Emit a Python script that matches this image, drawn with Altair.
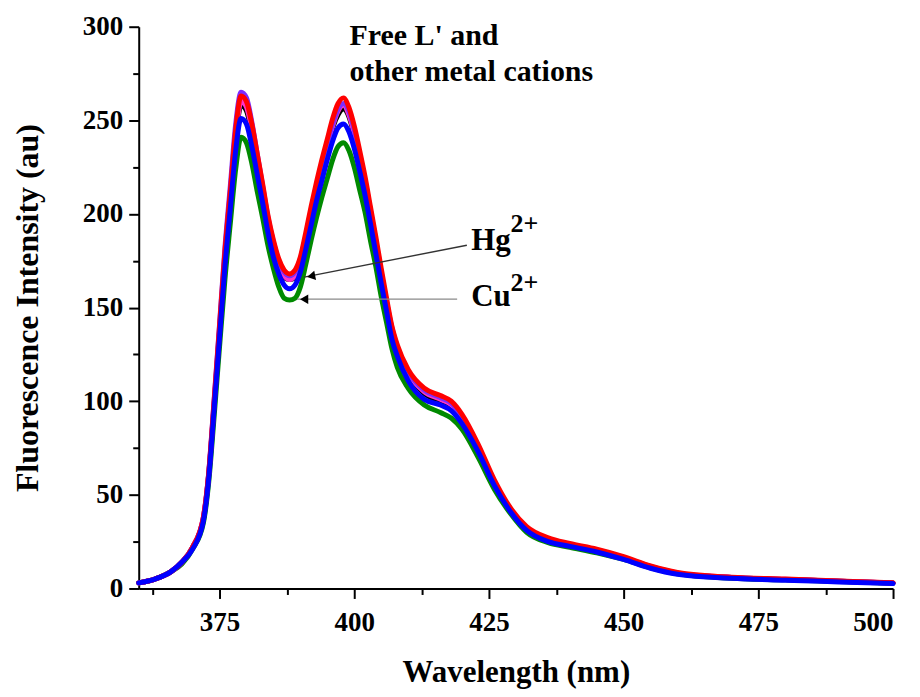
import altair as alt
import pandas as pd

# ---------------- data ----------------
wavelength = [360, 363, 366, 368, 370, 372, 373, 374, 375, 376, 377, 378, 379, 380, 381,
              382, 383, 384, 385, 386, 387, 388, 389, 390, 391, 392, 393, 394, 395, 396,
              397, 398, 399, 400, 401, 402, 403, 404, 405, 406, 407, 408, 410, 413, 416,
              418, 420, 423, 426, 429, 432, 436, 440, 445, 450, 455, 460, 470, 480, 490, 500]

green = [3, 5, 9, 13, 21, 35, 57, 92, 129, 165, 195, 224, 241, 238, 227, 212,
         198, 183, 171, 161, 155, 154, 155, 161, 173, 186, 198, 209, 219, 229,
         236, 238, 234, 225, 213, 201, 186, 172, 156, 142, 128, 118,
         107, 98, 94, 91, 85, 70, 53, 40, 30, 24.5,
         22, 19, 15.5, 11, 7.8, 5.5, 4.6, 3.7, 2.8]
black = [3, 5, 9, 14, 22, 37, 61, 98, 137, 176, 208, 240, 258, 255, 243, 227,
         211, 195, 182, 172, 166, 165, 166, 173, 186, 200, 213, 224, 235, 246,
         253, 256, 252, 242, 229, 216, 200, 184, 168, 152, 137, 127,
         115, 104, 100, 97, 90, 75, 56, 42, 32, 26,
         23.5, 20.5, 16.5, 11.5, 8.2, 5.8, 4.8, 3.8, 2.9]
magenta = [3, 5, 9, 14, 22, 38, 61, 99, 138, 177, 209, 241, 260, 257, 245, 229,
           213, 196, 183, 173, 167, 165, 167, 174, 187, 201, 214, 226, 236, 247,
           255, 258, 253, 243, 231, 217, 201, 185, 168, 153, 138, 128,
           115, 105, 101, 98, 91, 76, 57, 42, 32, 26.5,
           23.5, 20.5, 16.5, 11.8, 8.3, 5.9, 4.9, 3.9, 2.9]
purple = [3, 5, 9, 14, 22, 38, 62, 101, 141, 182, 215, 248, 265, 262, 249, 232,
          215, 198, 185, 175, 169, 167, 169, 176, 188, 202, 215, 227, 238, 248,
          256, 259, 255, 245, 232, 218, 202, 186, 169, 153, 139, 129,
          116, 106, 102, 99, 92, 76, 57, 42, 32, 26.5,
          23.5, 20.5, 16.5, 11.5, 8.2, 5.8, 4.8, 3.8, 2.9]
red = [3, 5, 9, 14, 22, 38, 62, 100, 140, 180, 212, 245, 263, 260, 248, 232,
       216, 199, 186, 176, 170, 168, 170, 177, 190, 204, 217, 229, 240, 251,
       259, 262, 257, 247, 234, 220, 204, 188, 171, 155, 140, 130,
       117, 107, 103, 100, 93, 77, 58, 43, 33, 27,
       24, 21, 17, 12, 8.5, 6, 5, 4, 3]
blue = [3, 5, 9, 14, 21, 36, 59, 96, 134, 172, 203, 234, 251, 248, 236, 221,
        206, 190, 177, 168, 162, 160, 162, 169, 181, 194, 207, 218, 229, 239,
        246, 248, 244, 235, 223, 210, 195, 179, 163, 148, 133, 124,
        111, 101, 98, 95, 88, 73, 55, 41, 31, 25,
        22.5, 19.5, 15.5, 10.8, 7.6, 5.4, 4.4, 3.5, 2.6]

series = [("green", green, "#008a00"), ("black", black, "#000000"),
          ("magenta", magenta, "#ff33cc"), ("purple", purple, "#7b2cff"),
          ("red", red, "#ff0000"), ("blue", blue, "#0000ff")]

x_major_ticks = [375, 400, 425, 450, 475, 500]
x_minor_ticks = [362.5, 387.5, 412.5, 437.5, 462.5, 487.5]
y_major_ticks = [0, 50, 100, 150, 200, 250, 300]
y_minor_ticks = [25, 75, 125, 175, 225, 275]

# annotation texts (data coordinates)
label_text = ["Free L' and", "other metal cations", "Hg", "2+", "Cu", "2+"]
label_x = [399.1, 399.1, 421.7, 429.0, 421.7, 429.0]
label_y = [290.4, 271.2, 180.6, 190.2, 150.8, 158.8]
label_size = [30, 30, 31, 26, 31, 26]

arrow_name = ["Hg", "Cu"]
arrow_x1 = [420.9, 419.1]
arrow_y1 = [183.3, 154.5]
arrow_x2 = [390.7, 389.4]
arrow_y2 = [166.3, 154.5]
arrow_color = ["#333333", "#8a8a8a"]
head_x = [392.0, 390.7]
head_y = [166.8, 154.5]
head_angle = [349, 0]

FONT = "Liberation Serif"
XD = [360, 500]
YD = [0, 300]

xscale = alt.Scale(domain=XD, nice=False, zero=False)
yscale = alt.Scale(domain=YD, nice=False, zero=False)

ax_common = dict(grid=False, tickColor="black", tickWidth=2, domainColor="black",
                 domainWidth=2, labelFont=FONT, labelFontWeight="bold",
                 labelColor="black", titleFont=FONT, titleFontWeight="bold",
                 titleColor="black")

x_major = alt.Axis(values=x_major_ticks, title="Wavelength (nm)", orient="bottom",
                   labelFontSize=27, tickSize=10, labelPadding=11, titleFontSize=31,
                   titleY=93, titleBaseline="alphabetic", **ax_common)
y_major = alt.Axis(values=y_major_ticks, title="Fluorescence Intensity (au)", orient="left",
                   labelFontSize=27, tickSize=10, labelPadding=6, titleFontSize=32,
                   titleX=-101, titleY=281.5, titleBaseline="alphabetic",
                   titleAlign="center", titleAngle=270, **ax_common)
x_minor = alt.Axis(values=x_minor_ticks, title="", orient="bottom", labels=False,
                   domain=False, tickSize=6, grid=False, tickColor="black", tickWidth=2)
y_minor = alt.Axis(values=y_minor_ticks, title="", orient="left", labels=False,
                   domain=False, tickSize=6, grid=False, tickColor="black", tickWidth=2)

layers = []
for i, (name, vals, col) in enumerate(series):
    df = pd.DataFrame({"wavelength": wavelength, "intensity": vals})
    if i == 0:
        xenc = alt.X("wavelength:Q", scale=xscale, axis=x_major)
        yenc = alt.Y("intensity:Q", scale=yscale, axis=y_major)
    elif i == 1:
        xenc = alt.X("wavelength:Q", scale=xscale, axis=x_minor)
        yenc = alt.Y("intensity:Q", scale=yscale, axis=y_minor)
    else:
        xenc = alt.X("wavelength:Q", scale=xscale, axis=None)
        yenc = alt.Y("intensity:Q", scale=yscale, axis=None)
    layers.append(
        alt.Chart(df).mark_line(color=col, strokeWidth=5, interpolate="monotone",
                                strokeCap="round", strokeJoin="round")
        .encode(x=xenc, y=yenc)
    )

arrows_df = pd.DataFrame({"name": arrow_name, "x1": arrow_x1, "y1": arrow_y1,
                          "x2": arrow_x2, "y2": arrow_y2, "color": arrow_color,
                          "hx": head_x, "hy": head_y, "angle": head_angle})

arrow_lines = alt.Chart(arrows_df).mark_rule(strokeWidth=1.4).encode(
    x=alt.X("x1:Q", scale=xscale, axis=None), y=alt.Y("y1:Q", scale=yscale, axis=None),
    x2="x2:Q", y2="y2:Q", color=alt.Color("color:N", scale=None))

arrow_heads = alt.Chart(arrows_df).mark_point(shape="triangle-left", filled=True,
                                              size=90, color="black", opacity=1).encode(
    x=alt.X("hx:Q", scale=xscale, axis=None), y=alt.Y("hy:Q", scale=yscale, axis=None),
    angle=alt.Angle("angle:Q", scale=None))

labels_df = pd.DataFrame({"text": label_text, "x": label_x, "y": label_y, "size": label_size})
labels = alt.Chart(labels_df).mark_text(font=FONT, fontWeight="bold", color="black",
                                        align="left", baseline="alphabetic").encode(
    x=alt.X("x:Q", scale=xscale, axis=None), y=alt.Y("y:Q", scale=yscale, axis=None),
    text="text:N", size=alt.Size("size:Q", scale=None))

chart = alt.layer(*layers, arrow_lines, arrow_heads, labels).resolve_axis(
    x="independent", y="independent"
).properties(
    width=756, height=563,
    autosize=alt.AutoSizeParams(type="none"),
    padding={"left": 131, "top": 18, "right": 19, "bottom": 103},
    background="white",
).configure_view(stroke=None)

chart.save("out.html", embed_options={"renderer": "svg", "actions": False})
